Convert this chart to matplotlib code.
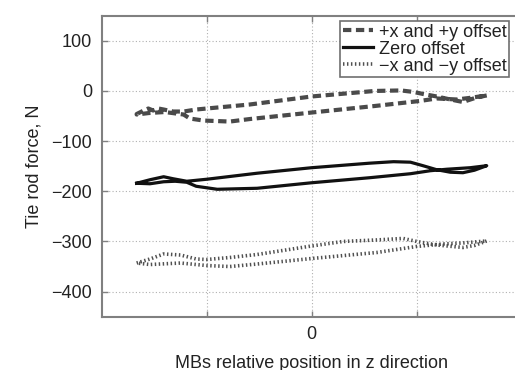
import matplotlib
matplotlib.use("Agg")
import matplotlib.pyplot as plt

# +x and +y offset (dashed), closed loop: upper branch then lower branch
pos_upper_x = [1.667, 1.57, 1.44, 1.32, 1.19, 1.06, 0.97, 0.85, 0.6, 0.0, -0.59, -1.0, -1.1,
               -1.22, -1.32, -1.41, -1.46, -1.51, -1.556, -1.6, -1.667]
pos_upper_y = [-9, -13, -22, -17, -11, -6, -2, 1, 0, -11, -27, -35, -37,
               -41, -41, -37, -35, -39, -35, -39, -46]
pos_lower_x = [-1.667, -1.55, -1.4, -1.22, -1.16, -1.03, -0.78, -0.59, 0.0, 0.6, 1.03, 1.19, 1.38, 1.5, 1.667]
pos_lower_y = [-47, -44, -42, -47, -55, -59, -61, -56, -43, -30, -20, -15, -17, -14, -9]

# Zero offset (solid)
zero_upper_x = [-1.667, -1.54, -1.41, -1.32, -1.19, -1.0, -0.52, 0.0, 0.55, 0.78, 0.94, 1.06,
                1.19, 1.32, 1.44, 1.55, 1.667]
zero_upper_y = [-184, -177, -171, -175, -180, -176, -164, -153, -144, -141, -142, -149,
                -157, -162, -163, -158, -149]
zero_lower_x = [1.667, 1.51, 1.29, 1.13, 0.94, 0.55, 0.0, -0.52, -0.9, -1.1, -1.19, -1.3, -1.41, -1.54, -1.667]
zero_lower_y = [-149, -153, -156, -159, -165, -173, -183, -194, -196, -190, -182, -180, -181, -185, -184]

# -x and -y offset (dotted)
neg_upper_x = [-1.667, -1.54, -1.41, -1.25, -1.1, -1.0, -0.78, -0.52, 0.0, 0.3, 0.62, 0.87,
               1.0, 1.19, 1.44, 1.55, 1.667]
neg_upper_y = [-343, -335, -325, -327, -335, -336, -332, -326, -309, -300, -297, -294,
               -300, -307, -312, -308, -299]
neg_lower_x = [1.667, 1.44, 1.25, 1.0, 0.62, 0.0, -0.52, -0.78, -1.0, -1.25, -1.54, -1.667]
neg_lower_y = [-299, -303, -305, -310, -322, -334, -345, -350, -348, -343, -346, -343]

labels = ["+x and +y offset", "Zero offset", "\u2212x and \u2212y offset"]
yticks = [-400, -300, -200, -100, 0, 100]
xticks = [-1, 0, 1]
xticklabels = ["", "0", ""]

plt.rcParams['font.family'] = ['Liberation Sans', 'DejaVu Sans']
plt.rcParams['axes.unicode_minus'] = True

fig = plt.figure(figsize=(5.15, 3.7), dpi=100)
ax = fig.add_axes([101.7 / 515, 53.3 / 370, 420 / 515, 301 / 370])

ax.plot(pos_upper_x + pos_lower_x, pos_upper_y + pos_lower_y, color="#4a4a4a", lw=3.0,
        linestyle=(0, (2.0, 1.1)), label=labels[0])
ax.plot(zero_upper_x + zero_lower_x, zero_upper_y + zero_lower_y, color="#111111", lw=2.3,
        label=labels[1])
ax.plot(neg_upper_x + neg_lower_x, neg_upper_y + neg_lower_y, color="#505050", lw=2.6,
        linestyle=(0, (0.4, 0.7)), dash_capstyle="butt", label=labels[2])

ax.set_xlim(-2, 2)
ax.set_ylim(-450, 150)
ax.set_yticks(yticks)
ax.set_xticks(xticks)
ax.set_xticklabels(xticklabels)
ax.grid(True, color="#b0b0b0", lw=0.8, linestyle=(0, (1, 2)))
ax.tick_params(direction="in", length=4, width=1, colors="#808080", labelcolor="#222222",
               labelsize=13, top=True, right=True, pad=7)
for sp in ax.spines.values():
    sp.set_color("#808080")
    sp.set_linewidth(1.5)

ax.set_ylabel("Tie rod force, N", fontsize=13, color="#222222", labelpad=6)
ax.set_xlabel("MBs relative position in z direction", fontsize=13, color="#222222", labelpad=8)

leg = ax.legend(loc="upper right", bbox_to_anchor=(0.970, 0.983), borderaxespad=0,
                fontsize=13, labelspacing=0.0, handlelength=1.7, handletextpad=0.3,
                borderpad=0.15, fancybox=False, framealpha=1, edgecolor="#707070")
leg.get_frame().set_linewidth(1.2)
for t in leg.get_texts():
    t.set_color("#222222")

fig.savefig("out.png", dpi=100)
